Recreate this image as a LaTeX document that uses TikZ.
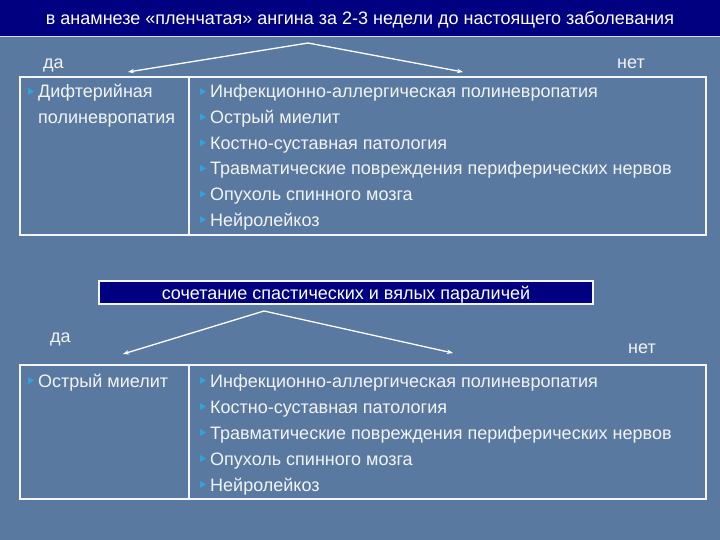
\documentclass[tikz,border=0pt]{standalone}
\usepackage{fontspec}
\setmainfont{Liberation Sans}
\usetikzlibrary{arrows.meta,calc}
\definecolor{bgc}{HTML}{5A79A1}
\definecolor{navyc}{HTML}{000080}
\definecolor{txtc}{HTML}{F2F4F8}
\definecolor{linec}{HTML}{F4F6FA}
\definecolor{bulc}{HTML}{2FA3DA}
\tikzset{
  txt/.style={anchor=base west, inner sep=0pt, text=txtc, font=\fontsize{18}{20}\selectfont},
  hdtxt/.style={anchor=base, inner sep=0pt, text=white, font=\fontsize{18}{20}\selectfont},
  boxline/.style={draw=linec, line width=1.8pt},
  arr/.style={draw=white, line width=1.3pt, -{Stealth[length=6pt,width=4.5pt]}},
}
\newcommand\mybul[1]{\fill[bulc] ([shift={(-10,-10)}]#1.base west) -- ++(0,7) -- ++(6,-3.5) -- cycle;}
\begin{document}
\begin{tikzpicture}[x=1pt,y=-1pt]
\useasboundingbox (0,0) rectangle (720,540);
\fill[bgc] (0,0) rectangle (720,540);

% header 1
\fill[navyc] (0,0) rectangle (720,36);
\draw[linec!80!bgc, line width=1pt] (0,36.5) -- (720,36.5);
\node[hdtxt] (h1) at (360,25) {в анамнезе «пленчатая» ангина за 2-3 недели до настоящего заболевания};

% arrows 1
\coordinate (a1) at (308,43);
\coordinate (y1) at (128,72);
\coordinate (n1) at (463,72);
\draw[arr] (a1) -- (y1);
\draw[arr] (a1) -- (n1);
\node[txt] (da1) at (43,69) {да};
\node[txt] (net1) at (617,69) {нет};

% box 1
\draw[boxline] (20,77) rectangle (706,235);
\draw[boxline] (189,77) -- (189,235);
\node[txt] (l1) at (38,98) {Дифтерийная};
\mybul{l1}
\node[txt] (l2) at (38,123.6) {полиневропатия};
\node[txt] (r1) at (210,98) {Инфекционно-аллергическая полиневропатия};
\node[txt] (r2) at (210,123.6) {Острый миелит};
\node[txt] (r3) at (210,149.2) {Костно-суставная патология};
\node[txt] (r4) at (210,174.8) {Травматические повреждения периферических нервов};
\node[txt] (r5) at (210,200.4) {Опухоль спинного мозга};
\node[txt] (r6) at (210,226) {Нейролейкоз};
\mybul{r1}\mybul{r2}\mybul{r3}\mybul{r4}\mybul{r5}\mybul{r6}

% header 2
\draw[fill=navyc, draw=linec, line width=1.2pt] (99,281) rectangle (593,304);
\node[hdtxt] (h2) at (346,299) {сочетание спастических и вялых параличей};

% arrows 2
\coordinate (a2) at (264,311);
\coordinate (y2) at (123,354);
\coordinate (n2) at (453,353);
\draw[arr] (a2) -- (y2);
\draw[arr] (a2) -- (n2);
\node[txt] (da2) at (50,342) {да};
\node[txt] (net2) at (628,353) {нет};

% box 2
\draw[boxline] (20,365) rectangle (706,499);
\draw[boxline] (189,365) -- (189,499);
\node[txt] (m1) at (38,387) {Острый миелит};
\mybul{m1}
\node[txt] (s1) at (210,387) {Инфекционно-аллергическая полиневропатия};
\node[txt] (s2) at (210,413) {Костно-суставная патология};
\node[txt] (s3) at (210,439) {Травматические повреждения периферических нервов};
\node[txt] (s4) at (210,465) {Опухоль спинного мозга};
\node[txt] (s5) at (210,491) {Нейролейкоз};
\mybul{s1}\mybul{s2}\mybul{s3}\mybul{s4}\mybul{s5}
\end{tikzpicture}
\end{document}
